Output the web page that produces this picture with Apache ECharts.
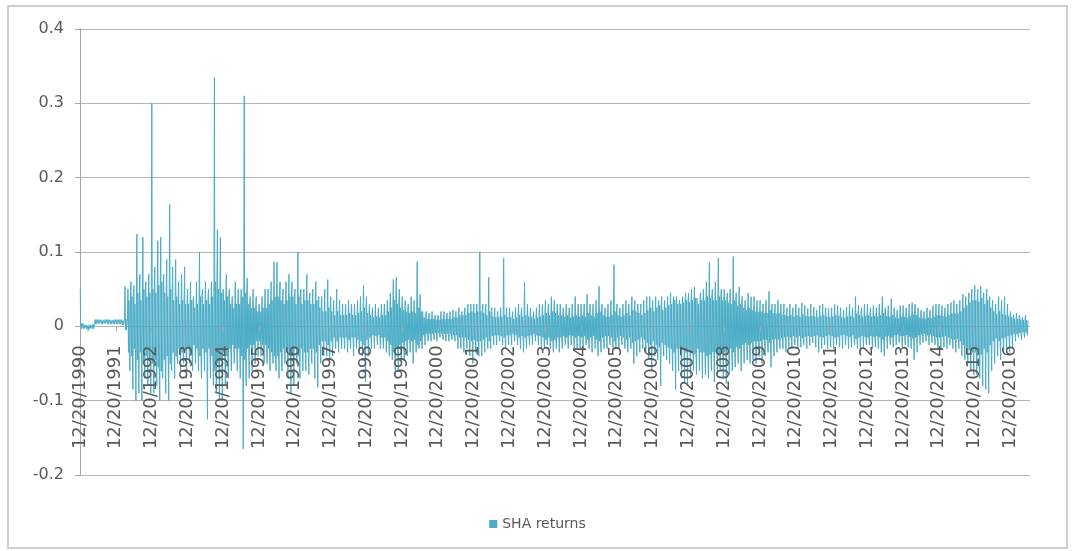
<!DOCTYPE html>
<html>
<head>
<meta charset="utf-8">
<title>SHA returns</title>
<script src="https://cdn.jsdelivr.net/npm/echarts@6/dist/echarts.min.js"></script>
<style>
  html, body { margin: 0; padding: 0; background: #ffffff; }
  #chart { width: 1075px; height: 551px; }
</style>
</head>
<body>
<div id="chart"></div>
<script>
// Year marks on the horizontal axis (one per year, starting 12/20/1990)
const yearTicks = [
  '12/20/1990', '12/20/1991', '12/20/1992', '12/20/1993', '12/20/1994', '12/20/1995',
  '12/20/1996', '12/20/1997', '12/20/1998', '12/20/1999', '12/20/2000', '12/20/2001',
  '12/20/2002', '12/20/2003', '12/20/2004', '12/20/2005', '12/20/2006', '12/20/2007',
  '12/20/2008', '12/20/2009', '12/20/2010', '12/20/2011', '12/20/2012', '12/20/2013',
  '12/20/2014', '12/20/2015', '12/20/2016'
];

// Highest daily return in each month (12 per line, one line per year from 12/20)
const monthlyHigh = [
  0.05, 0.002, 0.001, 0.002, 0.003, 0.009, 0.009, 0.008, 0.009, 0.009, 0.008, 0.009,
  0.009, 0.009, 0.008, 0.054, 0.05, 0.06, 0.055, 0.124, 0.07, 0.12, 0.06, 0.07,
  0.30, 0.08, 0.115, 0.12, 0.07, 0.09, 0.164, 0.08, 0.09, 0.06, 0.07, 0.08,
  0.05, 0.06, 0.04, 0.06, 0.1, 0.05, 0.06, 0.05, 0.06, 0.335, 0.13, 0.12,
  0.05, 0.07, 0.05, 0.04, 0.06, 0.05, 0.05, 0.31, 0.065, 0.04, 0.05, 0.04,
  0.03, 0.04, 0.05, 0.05, 0.06, 0.087, 0.086, 0.06, 0.05, 0.06, 0.07, 0.06,
  0.05, 0.1, 0.05, 0.05, 0.07, 0.045, 0.05, 0.06, 0.04, 0.04, 0.05, 0.063,
  0.04, 0.035, 0.05, 0.035, 0.03, 0.03, 0.035, 0.03, 0.03, 0.035, 0.04, 0.055,
  0.04, 0.03, 0.025, 0.03, 0.025, 0.03, 0.03, 0.035, 0.045, 0.063, 0.066, 0.05,
  0.04, 0.035, 0.03, 0.04, 0.035, 0.087, 0.043, 0.02, 0.02, 0.018, 0.02, 0.015,
  0.015, 0.02, 0.02, 0.018, 0.02, 0.022, 0.02, 0.025, 0.02, 0.025, 0.03, 0.03,
  0.03, 0.03, 0.1, 0.03, 0.03, 0.066, 0.025, 0.025, 0.02, 0.025, 0.092, 0.025,
  0.025, 0.02, 0.025, 0.03, 0.025, 0.059, 0.03, 0.025, 0.02, 0.025, 0.03, 0.03,
  0.035, 0.03, 0.04, 0.035, 0.03, 0.03, 0.025, 0.03, 0.025, 0.03, 0.04, 0.03,
  0.03, 0.03, 0.043, 0.03, 0.03, 0.035, 0.054, 0.03, 0.025, 0.03, 0.035, 0.083,
  0.03, 0.025, 0.03, 0.035, 0.03, 0.04, 0.035, 0.03, 0.03, 0.035, 0.04, 0.04,
  0.035, 0.04, 0.035, 0.04, 0.035, 0.04, 0.045, 0.04, 0.04, 0.035, 0.04, 0.045,
  0.045, 0.05, 0.053, 0.04, 0.045, 0.05, 0.06, 0.086, 0.05, 0.06, 0.092, 0.05,
  0.05, 0.045, 0.05, 0.094, 0.045, 0.053, 0.04, 0.035, 0.045, 0.04, 0.04, 0.035,
  0.035, 0.03, 0.035, 0.047, 0.03, 0.03, 0.035, 0.03, 0.03, 0.025, 0.03, 0.025,
  0.03, 0.025, 0.032, 0.028, 0.024, 0.03, 0.026, 0.022, 0.028, 0.03, 0.025, 0.024,
  0.025, 0.03, 0.028, 0.025, 0.022, 0.026, 0.03, 0.025, 0.04, 0.028, 0.025, 0.03,
  0.03, 0.025, 0.028, 0.025, 0.03, 0.04, 0.025, 0.028, 0.037, 0.025, 0.022, 0.028,
  0.028, 0.025, 0.03, 0.032, 0.03, 0.025, 0.022, 0.02, 0.025, 0.022, 0.028, 0.03,
  0.03, 0.028, 0.025, 0.03, 0.032, 0.035, 0.03, 0.035, 0.043, 0.04, 0.045, 0.05,
  0.055, 0.05, 0.054, 0.045, 0.05, 0.04, 0.035, 0.03, 0.04, 0.035, 0.04, 0.03,
  0.02, 0.015, 0.018, 0.015, 0.012, 0.015
];

// Lowest daily return in each month
const monthlyLow = [
  -0.003, -0.004, -0.006, -0.005, -0.004, 0.003, 0.004, 0.003, 0.004, 0.003, 0.003, 0.003,
  0.003, 0.003, 0.002, -0.005, -0.06, -0.085, -0.1, -0.09, -0.1, -0.07, -0.08, -0.09,
  -0.09, -0.08, -0.1, -0.07, -0.09, -0.1, -0.06, -0.07, -0.05, -0.06, -0.05, -0.07,
  -0.05, -0.06, -0.05, -0.06, -0.07, -0.06, -0.125, -0.07, -0.08, -0.09, -0.1, -0.1,
  -0.08, -0.07, -0.06, -0.05, -0.06, -0.07, -0.165, -0.08, -0.07, -0.06, -0.05, -0.04,
  -0.04, -0.05, -0.05, -0.06, -0.05, -0.06, -0.07, -0.06, -0.05, -0.07, -0.09, -0.08,
  -0.05, -0.07, -0.06, -0.06, -0.065, -0.05, -0.07, -0.082, -0.05, -0.04, -0.04, -0.05,
  -0.04, -0.03, -0.035, -0.03, -0.03, -0.035, -0.03, -0.04, -0.03, -0.035, -0.04, -0.075,
  -0.04, -0.03, -0.03, -0.025, -0.03, -0.03, -0.035, -0.04, -0.045, -0.067, -0.06, -0.05,
  -0.045, -0.04, -0.035, -0.05, -0.035, -0.03, -0.03, -0.025, -0.02, -0.02, -0.018, -0.02,
  -0.015, -0.018, -0.02, -0.02, -0.018, -0.02, -0.03, -0.03, -0.035, -0.03, -0.04, -0.05,
  -0.035, -0.04, -0.04, -0.035, -0.03, -0.03, -0.025, -0.025, -0.02, -0.025, -0.03, -0.025,
  -0.025, -0.02, -0.025, -0.03, -0.035, -0.03, -0.025, -0.025, -0.02, -0.025, -0.03, -0.03,
  -0.025, -0.03, -0.035, -0.03, -0.035, -0.03, -0.025, -0.03, -0.025, -0.03, -0.03, -0.03,
  -0.03, -0.025, -0.03, -0.035, -0.03, -0.04, -0.035, -0.03, -0.03, -0.025, -0.03, -0.03,
  -0.03, -0.025, -0.03, -0.035, -0.03, -0.05, -0.04, -0.035, -0.03, -0.035, -0.045, -0.06,
  -0.04, -0.045, -0.08, -0.04, -0.045, -0.05, -0.06, -0.085, -0.06, -0.07, -0.075, -0.08,
  -0.07, -0.06, -0.065, -0.06, -0.07, -0.065, -0.07, -0.06, -0.075, -0.065, -0.06, -0.07,
  -0.077, -0.065, -0.06, -0.055, -0.05, -0.06, -0.05, -0.045, -0.05, -0.045, -0.05, -0.04,
  -0.05, -0.04, -0.035, -0.055, -0.04, -0.035, -0.03, -0.03, -0.035, -0.03, -0.03, -0.025,
  -0.03, -0.028, -0.025, -0.03, -0.026, -0.022, -0.028, -0.035, -0.03, -0.025, -0.03, -0.028,
  -0.03, -0.025, -0.028, -0.03, -0.025, -0.03, -0.028, -0.025, -0.03, -0.035, -0.028, -0.025,
  -0.025, -0.03, -0.028, -0.03, -0.035, -0.04, -0.03, -0.025, -0.028, -0.025, -0.022, -0.028,
  -0.025, -0.028, -0.03, -0.045, -0.035, -0.025, -0.022, -0.02, -0.025, -0.022, -0.025, -0.03,
  -0.03, -0.028, -0.03, -0.025, -0.03, -0.035, -0.03, -0.04, -0.045, -0.05, -0.06, -0.065,
  -0.065, -0.07, -0.08, -0.085, -0.09, -0.06, -0.05, -0.04, -0.045, -0.035, -0.03, -0.035,
  -0.03, -0.02, -0.015, -0.018, -0.015, -0.012
];

// Typical size of an ordinary day's move in each month
const monthlyBand = [
  0.004, 0.003, 0.003, 0.003, 0.003, 0.009, 0.009, 0.009, 0.009, 0.009, 0.009, 0.009,
  0.009, 0.009, 0.009, 0.01, 0.035, 0.04, 0.03, 0.045, 0.035, 0.05, 0.04, 0.045,
  0.05, 0.045, 0.055, 0.06, 0.045, 0.04, 0.05, 0.035, 0.04, 0.03, 0.035, 0.03,
  0.03, 0.035, 0.025, 0.03, 0.04, 0.03, 0.035, 0.03, 0.04, 0.06, 0.05, 0.045,
  0.035, 0.04, 0.03, 0.025, 0.03, 0.03, 0.04, 0.045, 0.03, 0.025, 0.025, 0.02,
  0.02, 0.025, 0.025, 0.03, 0.035, 0.04, 0.04, 0.035, 0.03, 0.035, 0.04, 0.04,
  0.03, 0.04, 0.03, 0.035, 0.035, 0.03, 0.03, 0.035, 0.025, 0.02, 0.02, 0.025,
  0.02, 0.015, 0.02, 0.015, 0.015, 0.015, 0.018, 0.015, 0.015, 0.018, 0.02, 0.025,
  0.018, 0.015, 0.012, 0.013, 0.012, 0.015, 0.015, 0.02, 0.025, 0.035, 0.03, 0.025,
  0.022, 0.02, 0.018, 0.02, 0.018, 0.025, 0.02, 0.012, 0.01, 0.01, 0.01, 0.009,
  0.009, 0.01, 0.01, 0.01, 0.01, 0.012, 0.012, 0.015, 0.015, 0.015, 0.018, 0.02,
  0.018, 0.02, 0.02, 0.018, 0.015, 0.02, 0.013, 0.012, 0.012, 0.013, 0.015, 0.012,
  0.012, 0.01, 0.012, 0.015, 0.013, 0.015, 0.013, 0.012, 0.01, 0.012, 0.013, 0.015,
  0.018, 0.015, 0.02, 0.018, 0.015, 0.015, 0.013, 0.015, 0.012, 0.013, 0.015, 0.013,
  0.015, 0.013, 0.018, 0.015, 0.013, 0.018, 0.02, 0.015, 0.013, 0.013, 0.015, 0.02,
  0.015, 0.013, 0.015, 0.018, 0.015, 0.022, 0.02, 0.018, 0.015, 0.018, 0.022, 0.025,
  0.02, 0.025, 0.028, 0.022, 0.025, 0.028, 0.03, 0.035, 0.03, 0.03, 0.032, 0.035,
  0.032, 0.035, 0.038, 0.03, 0.035, 0.035, 0.04, 0.038, 0.035, 0.035, 0.04, 0.035,
  0.035, 0.032, 0.03, 0.035, 0.028, 0.03, 0.025, 0.022, 0.025, 0.022, 0.02, 0.02,
  0.02, 0.018, 0.018, 0.022, 0.018, 0.017, 0.018, 0.016, 0.015, 0.014, 0.015, 0.013,
  0.015, 0.013, 0.016, 0.014, 0.013, 0.014, 0.013, 0.012, 0.014, 0.015, 0.013, 0.012,
  0.013, 0.015, 0.014, 0.012, 0.011, 0.013, 0.014, 0.012, 0.017, 0.015, 0.013, 0.014,
  0.015, 0.013, 0.014, 0.013, 0.015, 0.018, 0.014, 0.013, 0.015, 0.012, 0.011, 0.013,
  0.013, 0.012, 0.014, 0.016, 0.015, 0.012, 0.011, 0.01, 0.012, 0.011, 0.013, 0.015,
  0.015, 0.014, 0.013, 0.015, 0.017, 0.018, 0.017, 0.02, 0.025, 0.028, 0.032, 0.035,
  0.035, 0.033, 0.038, 0.03, 0.035, 0.025, 0.02, 0.016, 0.02, 0.016, 0.015, 0.013,
  0.012, 0.01, 0.01, 0.009, 0.008, 0.008
];

// Each month is traced as: up to its high, back through the ordinary band,
// down to its low, and back up. x is measured in years after 12/20/1990.
const points = [];
for (let m = 0; m < monthlyHigh.length; m++) {
  const band = monthlyBand[m];
  const hi = monthlyHigh[m];
  const lo = monthlyLow[m];
  const up = Math.min(band, hi);
  const dn = Math.max(-band, lo);
  const seq = [hi, dn, up, dn, lo, up];
  seq.forEach((v, j) => points.push([(m + (j + 0.5) / seq.length) / 12, v]));
}

const yMin = -0.2, yMax = 0.4;
const gridTop = 29, gridBottom = 76, chartHeight = 551;
// the horizontal axis crosses the vertical one at 0
const zeroOffset = -(chartHeight - gridTop - gridBottom) * (0 - yMin) / (yMax - yMin);

const axisGray = '#a6a6a6';
const textGray = '#595959';

const chart = echarts.init(document.getElementById('chart'), null, { renderer: 'canvas' });
chart.setOption({
  animation: false,
  backgroundColor: '#ffffff',
  textStyle: { fontFamily: 'DejaVu Sans' },
  graphic: [{
    type: 'rect',
    shape: { x: 8, y: 6, width: 1059, height: 542 },
    style: { fill: 'none', stroke: '#cfcfcf', lineWidth: 2 },
    silent: true
  }],
  grid: {
    left: 80, right: 45, top: gridTop, bottom: gridBottom,
    containLabel: false, outerBoundsMode: 'none'
  },
  legend: {
    data: [{ name: 'SHA returns', icon: 'rect' }],
    left: 'center',
    top: 512,
    itemWidth: 8,
    itemHeight: 8,
    itemGap: 6,
    textStyle: { fontSize: 14, color: textGray, fontFamily: 'DejaVu Sans' }
  },
  xAxis: {
    type: 'value',
    z: 10,
    min: 0,
    max: 26.55,
    interval: 1,
    offset: zeroOffset,
    // the zero gridline underneath the series serves as the axis line
    axisLine: { show: false, onZero: false },
    axisTick: { show: true, length: 5, lineStyle: { color: axisGray } },
    splitLine: { show: false },
    axisLabel: {
      rotate: 90,
      margin: 19,
      fontSize: 18,
      color: textGray,
      fontFamily: 'DejaVu Sans',
      showMaxLabel: false,
      formatter: function (v) {
        const i = Math.round(v);
        return Math.abs(v - i) < 1e-6 && yearTicks[i] ? yearTicks[i] : '';
      }
    }
  },
  yAxis: {
    type: 'value',
    min: yMin,
    max: yMax,
    interval: 0.1,
    axisLine: { show: true, onZero: false, lineStyle: { color: axisGray, width: 1 } },
    axisTick: { show: true, length: 5, lineStyle: { color: axisGray } },
    splitLine: { show: true, lineStyle: { color: '#b5b5b5', width: 1 } },
    axisLabel: {
      margin: 16,
      fontSize: 16,
      color: textGray,
      fontFamily: 'DejaVu Sans',
      formatter: function (v) { return String(+v.toFixed(1)); }
    }
  },
  series: [{
    name: 'SHA returns',
    type: 'line',
    data: points,
    symbol: 'none',
    sampling: false,
    lineStyle: { color: '#4bacc6', width: 1 },
    itemStyle: { color: '#4bacc6' }
  }]
});
</script>
</body>
</html>
